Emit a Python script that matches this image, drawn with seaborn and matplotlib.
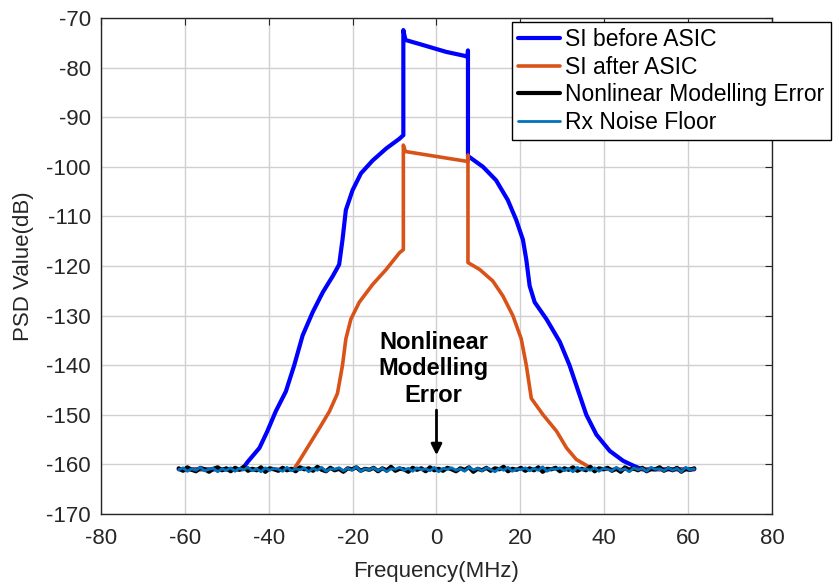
import numpy as np
import pandas as pd
import matplotlib
matplotlib.use("Agg")
import matplotlib.pyplot as plt
import seaborn as sns

# ---- data ----
freq_before = [-61.44, -46.3, -45.0, -42.2, -40.3, -38.3, -35.9, -33.9, -31.9, -29.5, -27.1, -24.7,
               -23.2, -22.4, -21.6, -20.0, -18.0, -15.2, -12.0, -8.8, -7.9,
               -7.9, -7.4, -3.3, 2.3, 6.7, 7.4, 7.5, 7.5,
               11.1, 14.2, 17.0, 19.0, 20.6, 21.4, 22.2, 23.4, 26.2, 29.4, 31.7, 33.3,
               35.7, 38.1, 41.3, 44.5, 47.0, 49.0, 61.44]
psd_before = [-161.0, -161.0, -159.5, -156.7, -153.3, -149.3, -145.3, -140.0, -134.0, -129.3, -125.3, -122.0,
              -119.7, -114.7, -108.7, -104.7, -101.3, -98.7, -96.3, -94.3, -93.6,
              -72.4, -74.4, -75.4, -76.8, -77.6, -77.8, -76.5, -97.8,
              -100.0, -102.7, -106.7, -110.7, -114.7, -118.7, -124.0, -127.3, -130.7, -135.3, -140.0, -144.0,
              -150.0, -154.0, -157.3, -159.3, -160.3, -161.0, -161.0]

freq_after = [-61.44, -34.0, -32.7, -30.3, -27.9, -25.5, -23.6, -22.4, -21.6, -20.4, -18.4, -15.2, -12.0,
              -8.8, -7.9, -7.9, -7.4, 0.0, 7.4, 7.5, 7.5,
              10.3, 13.4, 15.8, 18.2, 20.2, 21.4, 22.6, 25.4, 28.6, 31.0, 33.3, 35.7, 37.0, 61.44]
psd_after = [-161.0, -161.0, -159.3, -156.0, -152.7, -149.3, -145.7, -140.0, -134.7, -130.7, -127.3, -123.7, -120.7,
             -117.3, -116.7, -95.6, -96.9, -97.9, -98.9, -97.6, -119.3,
             -120.7, -123.0, -126.0, -130.0, -134.7, -140.0, -146.7, -150.0, -153.3, -156.7, -159.0, -160.2,
             -161.0, -161.0]

nl_error = [-160.8, -161.3, -160.6, -161.1, -161.4, -160.7, -161.0, -161.5, -160.9, -160.6,
            -161.2, -160.8, -161.4, -160.7, -161.1, -160.5, -161.3, -160.9, -161.2, -160.6,
            -161.5, -160.8, -161.0, -161.3, -160.7, -161.2, -160.9, -161.4, -160.6, -161.0,
            -160.8, -161.3, -160.5, -161.1, -161.4, -160.7, -161.2, -160.9, -161.5, -160.8,
            -161.0, -160.6, -161.3, -160.9, -161.1, -160.7, -161.4, -160.8, -161.2, -160.5,
            -161.3, -160.9, -161.0, -161.5, -160.7, -161.1, -160.8, -161.4, -160.6, -161.2,
            -160.9, -161.3, -160.7, -161.0, -161.4, -160.8, -161.1, -160.6, -161.5, -160.9,
            -161.2, -160.7, -161.3, -160.8, -161.0, -160.5, -161.4, -160.9, -161.1, -160.7,
            -161.3, -160.8, -161.2, -160.6, -161.5, -160.9, -161.0, -160.7, -161.4, -160.8,
            -161.1, -160.6, -161.3, -160.9, -161.2, -160.5, -161.4, -160.8, -161.0, -160.7,
            -161.3, -160.9, -161.5, -160.6, -161.1, -160.8, -161.2, -160.7, -161.4, -160.9,
            -161.0, -160.6, -161.3, -160.8, -161.2, -160.7, -161.5, -160.9, -161.1, -160.8]
noise_floor = [-161.1, -160.7, -161.4, -160.9, -161.2, -160.6, -161.3, -161.0, -160.8, -161.5,
               -160.9, -161.2, -160.7, -161.4, -160.8, -161.1, -160.6, -161.3, -160.9, -161.5,
               -160.7, -161.2, -160.8, -161.0, -161.4, -160.6, -161.3, -160.9, -161.1, -160.7,
               -161.5, -160.8, -161.2, -160.6, -161.4, -160.9, -161.0, -160.7, -161.3, -160.8,
               -161.2, -160.5, -161.4, -160.9, -161.1, -160.7, -161.3, -160.8, -161.5, -160.9,
               -161.0, -160.6, -161.2, -160.8, -161.4, -160.7, -161.1, -160.9, -161.3, -160.6,
               -161.5, -160.8, -161.0, -160.7, -161.2, -160.9, -161.4, -160.6, -161.1, -160.8,
               -161.3, -160.7, -161.0, -161.5, -160.8, -161.2, -160.6, -161.4, -160.9, -161.1,
               -160.7, -161.3, -160.8, -161.2, -160.5, -161.4, -160.9, -161.0, -160.7, -161.3,
               -160.8, -161.5, -160.6, -161.1, -160.9, -161.2, -160.7, -161.4, -160.8, -161.0,
               -161.3, -160.6, -161.2, -160.9, -161.5, -160.7, -161.1, -160.8, -161.4, -160.6,
               -161.0, -160.9, -161.3, -160.7, -161.2, -160.8, -161.5, -160.6, -161.1, -160.9]
freq_floor = np.linspace(-61.44, 61.44, len(noise_floor))

x_ticks = [-80, -60, -40, -20, 0, 20, 40, 60, 80]
y_ticks = [-170, -160, -150, -140, -130, -120, -110, -100, -90, -80, -70]

# ---- plot ----
sns.set_style("whitegrid")
plt.rcParams['font.family'] = ['Liberation Sans', 'DejaVu Sans']
plt.rcParams['axes.unicode_minus'] = False

fig = plt.figure(figsize=(8.33, 5.86), dpi=100)
ax = fig.add_axes([0.121, 0.123, 0.806, 0.846])

sns.lineplot(x=freq_before, y=psd_before, estimator=None, sort=False, ax=ax,
             color='#0000FF', linewidth=3, label='SI before ASIC')
sns.lineplot(x=freq_after, y=psd_after, estimator=None, sort=False, ax=ax,
             color='#D95319', linewidth=2.6, label='SI after ASIC')
sns.lineplot(x=freq_floor, y=nl_error, estimator=None, sort=False, ax=ax,
             color='black', linewidth=3, label='Nonlinear Modelling Error')
sns.lineplot(x=freq_floor, y=noise_floor, estimator=None, sort=False, ax=ax,
             color='#0072BD', linewidth=2.0, label='Rx Noise Floor')

ax.set_xlim(-80, 80)
ax.set_ylim(-170, -70)
ax.set_xticks(x_ticks)
ax.set_yticks(y_ticks)
ax.grid(True, color='#d0d0d0', linewidth=1)
for s in ax.spines.values():
    s.set_visible(True)
    s.set_color('#262626')
    s.set_linewidth(1)
ax.tick_params(direction='in', length=5, width=0.8, top=True, right=True,
               labelsize=16, colors='#262626')
ax.tick_params(axis='x', pad=10)
ax.tick_params(axis='y', pad=7)
ax.set_xlabel('Frequency(MHz)', fontsize=16, color='#262626', labelpad=9)
ax.set_ylabel('PSD Value(dB)', fontsize=16, color='#262626', labelpad=9)

ax.text(-0.7, -140.7, 'Nonlinear\nModelling\nError', ha='center', va='center',
        fontsize=17, fontweight='bold', color='black', linespacing=1.2)
ax.annotate('', xy=(0, -158.7), xytext=(0, -148.5),
            arrowprops=dict(arrowstyle='-|>', color='black', lw=2, mutation_scale=16))

leg = ax.legend(loc='upper right', bbox_to_anchor=(831 / 833, 1 - 21.7 / 586),
                bbox_transform=fig.transFigure, borderaxespad=0, fontsize=16.5,
                frameon=True, fancybox=False, framealpha=1, edgecolor='black',
                handlelength=1.8, handletextpad=0.25, labelspacing=0.2, borderpad=0.28)
leg.get_frame().set_linewidth(1)
for t in leg.get_texts():
    t.set_color('black')

fig.savefig('out.png', dpi=100)
